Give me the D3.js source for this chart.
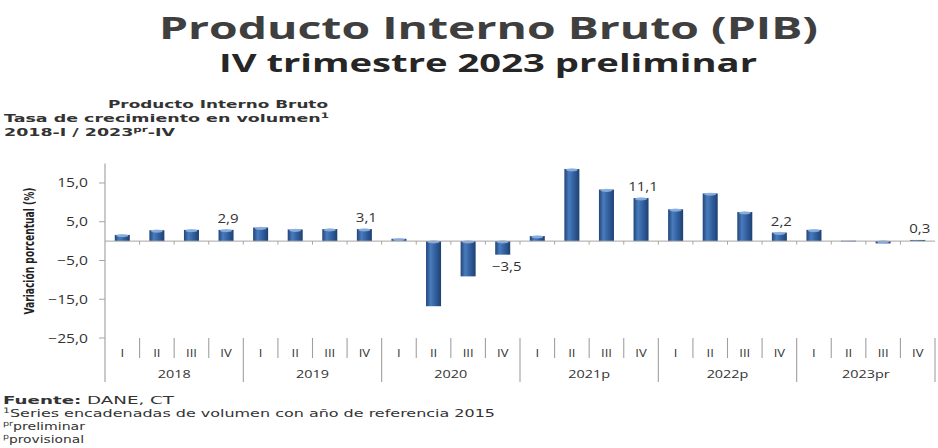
<!DOCTYPE html>
<html>
<head>
<meta charset="utf-8">
<script src="https://cdn.jsdelivr.net/npm/d3@7"></script>
<style>
  html, body { margin: 0; padding: 0; background: #ffffff; }
  svg { display: block; }
</style>
</head>
<body>
<div id="chart"></div>
<script>
// ---- data ----
const years = ["2018", "2019", "2020", "2021p", "2022p", "2023pr"];
const quarters = ["I", "II", "III", "IV"];
const values = [
  1.6, 2.8, 2.9, 2.9,
  3.5, 3.0, 3.1, 3.1,
  0.6, -16.8, -9.1, -3.5,
  1.3, 18.6, 13.3, 11.1,
  8.2, 12.3, 7.5, 2.2,
  2.9, 0.1, -0.6, 0.3
];
const yTicks = [15, 5, -5, -15, -25];
const yDomain = [-25, 20];
const labeledQuarter = "IV";

const data = [];
years.forEach((y, yi) => quarters.forEach((q, qi) => {
  data.push({ key: y + "-" + q, year: y, q: q, value: values[yi * 4 + qi] });
}));

// ---- layout ----
const W = 938, H = 448;
const plotLeft = 105, plotRight = 935;
const svg = d3.select("#chart").append("svg").attr("width", W).attr("height", H);

const defs = svg.append("defs");
const grad = defs.append("linearGradient").attr("id", "barGrad")
  .attr("x1", "0%").attr("x2", "100%").attr("y1", "0%").attr("y2", "0%");
grad.append("stop").attr("offset", "0%").attr("stop-color", "#214579");
grad.append("stop").attr("offset", "30%").attr("stop-color", "#4a7bbc");
grad.append("stop").attr("offset", "55%").attr("stop-color", "#3666a6");
grad.append("stop").attr("offset", "100%").attr("stop-color", "#1e4073");

const x = d3.scaleBand().domain(data.map(d => d.key))
  .range([plotLeft, plotRight]).paddingInner(0.566).paddingOuter(0.283);
const y = d3.scaleLinear().domain(yDomain).range([338, 163.6]);
const step = x.step();
const bw = x.bandwidth();

const fmt = v => d3.format(".1f")(v).replace(".", ",");

function stretch(sel, factor) {
  sel.each(function () {
    const w = this.getComputedTextLength();
    d3.select(this).attr("textLength", w * factor).attr("lengthAdjust", "spacingAndGlyphs");
  });
}
function fit(sel, width) {
  sel.attr("textLength", width).attr("lengthAdjust", "spacingAndGlyphs");
}
function applyAttrs(sel, o) { Object.entries(o).forEach(([k, v]) => sel.attr(k, v)); return sel; }

// ---- titles ----
const t1 = svg.append("text").attr("x", 159).attr("y", 39)
  .attr("font-family", "Open Sans").attr("font-weight", 700).attr("font-size", 31)
  .attr("fill", "#3f3f3f").text("Producto Interno Bruto (PIB)");
fit(t1, 659);
const t2 = svg.append("text").attr("x", 219).attr("y", 72)
  .attr("font-family", "Open Sans").attr("font-weight", 700).attr("font-size", 25)
  .attr("fill", "#262626").text("IV trimestre 2023 preliminar");
fit(t2, 538);

const subFont = { "font-family": "DejaVu Sans", "font-weight": 700, "font-size": 11, "fill": "#333" };

const s1 = applyAttrs(svg.append("text"), subFont).attr("x", 108).attr("y", 108).text("Producto Interno Bruto");
fit(s1, 220);
const s2 = applyAttrs(svg.append("text"), subFont).attr("x", 4).attr("y", 122);
s2.append("tspan").text("Tasa de crecimiento en volumen");
s2.append("tspan").attr("font-size", 7.5).attr("dy", -4).text("1");
fit(s2, 325);
const s3 = applyAttrs(svg.append("text"), subFont).attr("x", 4).attr("y", 136);
s3.append("tspan").text("2018-I / 2023");
s3.append("tspan").attr("font-size", 7.5).attr("dy", -4).text("pr");
s3.append("tspan").attr("dy", 4).text("-IV");
fit(s3, 171);

// ---- y axis ----
const axisColor = "#a6a6a6";
svg.append("line").attr("x1", plotLeft).attr("x2", plotLeft)
  .attr("y1", y(yDomain[1])).attr("y2", 382)
  .attr("stroke", axisColor).attr("stroke-width", 1.2);

const yt = svg.append("g");
yt.selectAll("line").data(yTicks).join("line")
  .attr("x1", plotLeft - 6).attr("x2", plotLeft)
  .attr("y1", d => y(d)).attr("y2", d => y(d))
  .attr("stroke", axisColor).attr("stroke-width", 1);
const ytl = yt.selectAll("text").data(yTicks).join("text")
  .attr("x", 88).attr("y", d => y(d) + 4.5)
  .attr("text-anchor", "end")
  .attr("font-family", "Open Sans").attr("font-size", 12).attr("fill", "#333")
  .text(d => fmt(d));
stretch(ytl, 1.3);

const yl = svg.append("text")
  .attr("transform", "translate(34,251) rotate(-90)")
  .attr("text-anchor", "middle")
  .attr("font-family", "DejaVu Sans Condensed, DejaVu Sans")
  .attr("font-weight", 700).attr("font-size", 14).attr("fill", "#222")
  .text("Variación porcentual (%)");
fit(yl, 127);

// ---- bars ----
const bars = svg.append("g");
bars.selectAll("rect").data(data).join("rect")
  .attr("x", d => x(d.key))
  .attr("width", bw)
  .attr("y", d => y(Math.max(0, d.value)))
  .attr("height", d => Math.max(0.8, Math.abs(y(d.value) - y(0))))
  .attr("fill", "url(#barGrad)");
bars.selectAll("ellipse").data(data.filter(d => Math.abs(d.value) >= 0.5)).join("ellipse")
  .attr("cx", d => x(d.key) + bw / 2)
  .attr("cy", d => y(Math.max(0, d.value)) + 0.8)
  .attr("rx", bw / 2 - 1.5).attr("ry", 1.6)
  .attr("fill", "#8db3e2").attr("opacity", 0.9);

// zero line
svg.append("line").attr("x1", plotLeft).attr("x2", plotRight)
  .attr("y1", y(0)).attr("y2", y(0))
  .attr("stroke", axisColor).attr("stroke-width", 1);
const bounds = d3.range(1, data.length);
svg.append("g").selectAll("line").data(bounds).join("line")
  .attr("x1", k => plotLeft + k * step).attr("x2", k => plotLeft + k * step)
  .attr("y1", y(0)).attr("y2", y(0) + 3.5)
  .attr("stroke", axisColor).attr("stroke-width", 1);

// data labels
const lab = svg.append("g").selectAll("text").data(data.filter(d => d.q === labeledQuarter)).join("text")
  .attr("x", d => x(d.key) + bw / 2 + (d.value < 0 ? 4 : 2))
  .attr("y", d => d.value < 0 ? y(d.value) + 16 : y(d.value) - 7)
  .attr("text-anchor", "middle")
  .attr("font-family", "Open Sans").attr("font-size", 12).attr("fill", "#333")
  .text(d => fmt(d.value));
stretch(lab, 1.25);

// ---- category axis ----
const sepColor = "#a0a0a0";
const catTop = 338;
svg.append("g").selectAll("line").data(d3.range(1, data.length + 1)).join("line")
  .attr("x1", k => plotLeft + k * step).attr("x2", k => plotLeft + k * step)
  .attr("y1", catTop).attr("y2", k => k % 4 === 0 ? 382 : 358)
  .attr("stroke", sepColor).attr("stroke-width", 1.1);

const ql = svg.append("g").selectAll("text").data(data).join("text")
  .attr("x", d => x(d.key) + bw / 2)
  .attr("y", 357)
  .attr("text-anchor", "middle")
  .attr("font-family", "Open Sans").attr("font-size", 10).attr("fill", "#333")
  .text(d => d.q);
stretch(ql, 1.3);

const yrl = svg.append("g").selectAll("text").data(years).join("text")
  .attr("x", (d, i) => plotLeft + (i * 4 + 2) * step)
  .attr("y", 378)
  .attr("text-anchor", "middle")
  .attr("font-family", "Open Sans").attr("font-size", 11.5).attr("fill", "#333")
  .text(d => d);
stretch(yrl, 1.25);

// ---- footnotes ----
const fnFont = { "font-family": "DejaVu Sans", "font-size": 11, "fill": "#333" };
const f1 = applyAttrs(svg.append("text"), fnFont).attr("x", 3).attr("y", 404);
f1.append("tspan").attr("font-weight", 700).text("Fuente:");
f1.append("tspan").text(" DANE, CT");
fit(f1, 171);
const f2 = applyAttrs(svg.append("text"), fnFont).attr("x", 3).attr("y", 417);
f2.append("tspan").attr("font-size", 7.5).attr("dy", -4).text("1");
f2.append("tspan").attr("dy", 4).text("Series encadenadas de volumen con año de referencia 2015");
fit(f2, 492);
const f3 = applyAttrs(svg.append("text"), fnFont).attr("x", 3).attr("y", 430);
f3.append("tspan").attr("font-size", 7.5).attr("dy", -4).text("pr");
f3.append("tspan").attr("dy", 4).text("preliminar");
fit(f3, 82);
const f4 = applyAttrs(svg.append("text"), fnFont).attr("x", 3).attr("y", 443);
f4.append("tspan").attr("font-size", 7.5).attr("dy", -4).text("p");
f4.append("tspan").attr("dy", 4).text("provisional");
fit(f4, 81);
</script>
</body>
</html>
